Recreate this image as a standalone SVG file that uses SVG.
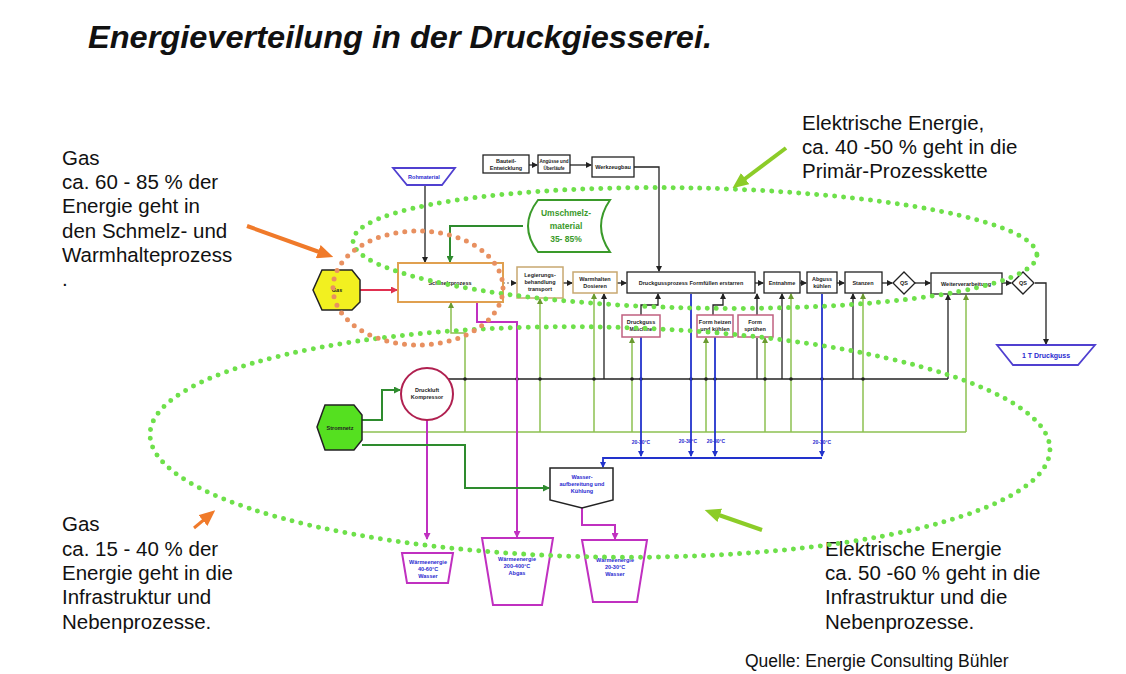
<svg xmlns="http://www.w3.org/2000/svg" width="1126" height="674" viewBox="0 0 1126 674">
<defs>
<style>
.txt{font-family:"Liberation Sans",Arial,sans-serif;fill:#111}
.big{font-size:20.5px}
.t{font-family:"Liberation Sans",Arial,sans-serif;font-size:5.5px;font-weight:bold;text-anchor:middle;fill:#222}
.tb{fill:#2a2ad0}
.tg{fill:#3a9a2a;font-size:8.5px}
.tl{font-size:5px}
.ts{font-size:4.6px}
.tp{font-size:7px}
.bx{fill:#fff;stroke:#222;stroke-width:1.3}
.k{fill:none;stroke:#222;stroke-width:1.3}
.g{fill:none;stroke:#8cc050;stroke-width:1.5}
.dg{fill:none;stroke:#2e8b2e;stroke-width:2}
.b{fill:none;stroke:#2233cc;stroke-width:1.8}
.m{fill:none;stroke:#c030c0;stroke-width:2}
.dotg{fill:none;stroke:#6ee04a;stroke-width:5;stroke-linecap:round;stroke-dasharray:0 9}
.doto{fill:none;stroke:#e89060;stroke-width:5;stroke-linecap:round;stroke-dasharray:0 9}
</style>
<marker id="ak" markerWidth="6" markerHeight="6" refX="5" refY="3" orient="auto" markerUnits="userSpaceOnUse"><path d="M0,0 L6,3 L0,6 Z" fill="#222"/></marker>
<marker id="ag" markerWidth="6" markerHeight="6" refX="5" refY="3" orient="auto" markerUnits="userSpaceOnUse"><path d="M0,0 L6,3 L0,6 Z" fill="#6a9a30"/></marker>
<marker id="adg" markerWidth="7" markerHeight="7" refX="6" refY="3.5" orient="auto" markerUnits="userSpaceOnUse"><path d="M0,0 L7,3.5 L0,7 Z" fill="#2e8b2e"/></marker>
<marker id="ab" markerWidth="6" markerHeight="6" refX="5" refY="3" orient="auto" markerUnits="userSpaceOnUse"><path d="M0,0 L6,3 L0,6 Z" fill="#2233cc"/></marker>
<marker id="am" markerWidth="7" markerHeight="7" refX="6" refY="3.5" orient="auto" markerUnits="userSpaceOnUse"><path d="M0,0 L7,3.5 L0,7 Z" fill="#c030c0"/></marker>
<marker id="ar" markerWidth="7" markerHeight="7" refX="6" refY="3.5" orient="auto" markerUnits="userSpaceOnUse"><path d="M0,0 L7,3.5 L0,7 Z" fill="#e03050"/></marker>
<marker id="aor" markerWidth="16" markerHeight="14" refX="4" refY="7" orient="auto" markerUnits="userSpaceOnUse"><path d="M0,0 L16,7 L0,14 Z" fill="#f07a2a"/></marker>
<marker id="agr" markerWidth="16" markerHeight="14" refX="4" refY="7" orient="auto" markerUnits="userSpaceOnUse"><path d="M0,0 L16,7 L0,14 Z" fill="#8ccc28"/></marker>
</defs>
<rect width="1126" height="674" fill="#fff"/>

<text class="txt" x="88" y="48" font-size="31" font-weight="bold" font-style="italic" textLength="624" lengthAdjust="spacingAndGlyphs">Energieverteilung in der Druckgiesserei.</text>

<g id="annot-gas-top" class="txt big">
<text x="62" y="165">Gas</text>
<text x="62" y="189">ca. 60 - 85 % der</text>
<text x="62" y="213">Energie geht in</text>
<text x="62" y="238">den Schmelz- und</text>
<text x="62" y="262">Warmhalteprozess</text>
<text x="62" y="286">.</text>
</g>
<g id="annot-el-top" class="txt big">
<text x="802" y="130">Elektrische Energie,</text>
<text x="802" y="154">ca. 40 -50 % geht in die</text>
<text x="802" y="178">Primär-Prozesskette</text>
</g>
<g id="annot-gas-bottom" class="txt big">
<text x="62" y="531">Gas</text>
<text x="62" y="556">ca. 15 - 40 % der</text>
<text x="62" y="580">Energie geht in die</text>
<text x="62" y="604">Infrastruktur und</text>
<text x="62" y="629">Nebenprozesse.</text>
</g>
<g id="annot-el-bottom" class="txt big">
<text x="825" y="556">Elektrische Energie</text>
<text x="825" y="580">ca. 50 -60 % geht in die</text>
<text x="825" y="604">Infrastruktur und die</text>
<text x="825" y="629">Nebenprozesse.</text>
</g>
<text class="txt" x="745" y="667" font-size="17.5">Quelle: Energie Consulting Bühler</text>

<g id="connectors">
<path class="k" d="M529,165 H537" marker-end="url(#ak)"/>
<path class="k" d="M570,165 H591" marker-end="url(#ak)"/>
<path class="k" d="M634,167 H659 V271" marker-end="url(#ak)"/>
<path class="k" d="M425,185 V262" marker-end="url(#ak)"/>
<path class="dg" d="M523,226 H450 V262" marker-end="url(#adg)"/>
<path fill="none" stroke="#e03050" stroke-width="2" d="M360,290 H397" marker-end="url(#ar)"/>
<path fill="none" stroke="#999" stroke-width="1.5" stroke-dasharray="2 2" d="M503,283 H516" marker-end="url(#ak)"/>
<path class="k" d="M563,283 H572" marker-end="url(#ak)"/>
<path class="k" d="M617,283 H626" marker-end="url(#ak)"/>
<path class="k" d="M755,283 H763" marker-end="url(#ak)"/>
<path class="k" d="M800,283 H806" marker-end="url(#ak)"/>
<path class="k" d="M837,283 H844" marker-end="url(#ak)"/>
<path class="k" d="M882,283 H892" marker-end="url(#ak)"/>
<path class="k" d="M915,283 H930" marker-end="url(#ak)"/>
<path class="k" d="M1002,283 H1011" marker-end="url(#ak)"/>
<path class="k" d="M1035,283 H1046 V344" marker-end="url(#ak)"/>

<path class="g" d="M362,432 H966"/>
<path class="k" d="M448,379 H948"/>
<path class="g" d="M465,432 V333 H451 V303" marker-end="url(#ag)"/>
<path class="g" d="M540,432 V299" marker-end="url(#ag)"/>
<path class="g" d="M594,432 V294" marker-end="url(#ag)"/>
<path class="g" d="M632,432 V338" marker-end="url(#ag)"/>
<path class="g" d="M706,432 V338" marker-end="url(#ag)"/>
<path class="g" d="M765,432 V338" marker-end="url(#ag)"/>
<path class="g" d="M791,432 V294" marker-end="url(#ag)"/>
<path class="g" d="M863,432 V294" marker-end="url(#ag)"/>
<path class="g" d="M966,432 V295" marker-end="url(#ag)"/>
<path class="k" d="M604,379 V294" marker-end="url(#ak)"/>
<path class="k" d="M757,379 V338"/>
<path class="k" d="M757,315 V294" marker-end="url(#ak)"/>
<path class="k" d="M782,379 V294" marker-end="url(#ak)"/>
<path class="k" d="M853,379 V294" marker-end="url(#ak)"/>
<path class="k" d="M948,379 V295" marker-end="url(#ak)"/>
<path class="k" d="M641,315 V305 H658 V294" marker-end="url(#ak)"/>
<path class="k" d="M713,315 V305 H723 V294" marker-end="url(#ak)"/>
<g fill="#222">
<circle cx="465" cy="379" r="1.8"/><circle cx="540" cy="379" r="1.8"/><circle cx="594" cy="379" r="1.8"/><circle cx="632" cy="379" r="1.8"/><circle cx="641" cy="379" r="1.8"/><circle cx="691" cy="379" r="1.8"/><circle cx="706" cy="379" r="1.8"/><circle cx="715" cy="379" r="1.8"/><circle cx="765" cy="379" r="1.8"/><circle cx="791" cy="379" r="1.8"/><circle cx="822" cy="379" r="1.8"/><circle cx="863" cy="379" r="1.8"/><circle cx="517" cy="379" r="1.8"/>
</g>

<path class="b" d="M641,337 V456" marker-end="url(#ab)"/>
<path class="b" d="M691,294 V456" marker-end="url(#ab)"/>
<path class="b" d="M715,337 V456" marker-end="url(#ab)"/>
<path class="b" d="M822,294 V456" marker-end="url(#ab)"/>
<path class="b" d="M822,458 H603 V467" marker-end="url(#ab)"/>
<g>
<text class="t tb tl" x="641" y="444">20-30°C</text>
<text class="t tb tl" x="688" y="443">20-30°C</text>
<text class="t tb tl" x="716" y="443">20-30°C</text>
<text class="t tb tl" x="822" y="444">20-30°C</text>
</g>

<path class="m" d="M427,420 V539" marker-end="url(#am)"/>
<path class="m" d="M477,302 V322 H517 V537" marker-end="url(#am)"/>
<path class="m" d="M582,508 V525 H615 V539" marker-end="url(#am)"/>

<path class="dg" d="M362,420 H382 V390 H400" marker-end="url(#adg)"/>
<path class="dg" d="M362,445 H465 V488 H549" marker-end="url(#adg)"/>
</g>

<g id="n-bauteil"><rect class="bx" x="483" y="155" width="46" height="18"/><text class="t" x="506" y="163">Bauteil-</text><text class="t" x="506" y="169.5">Entwicklung</text></g>
<g id="n-anguesse"><rect class="bx" x="538" y="155" width="32" height="18"/><text class="t ts" x="554" y="163">Angüsse und</text><text class="t ts" x="554" y="169.5">Überläufe</text></g>
<g id="n-werkzeugbau"><rect class="bx" x="592" y="157" width="42" height="20"/><text class="t" x="613" y="169">Werkzeugbau</text></g>
<g id="n-rohmaterial"><polygon points="393,168 455,168 442,185 407,185" fill="#fff" stroke="#5040d0" stroke-width="1.8"/><text class="t tb" x="424" y="178.5">Rohmaterial</text></g>
<g id="n-umschmelz"><path d="M538,200 H610 Q592,226 610,252 H538 Q518,226 538,200 Z" fill="#fff" stroke="#3a9a2a" stroke-width="2"/>
<text class="t tg" x="566" y="216">Umschmelz-</text><text class="t tg" x="566" y="229">material</text><text class="t tg" x="566" y="242">35- 85%</text></g>
<g id="n-gas"><polygon points="322,270 352,270 360,280 360,302 352,310 322,310 313,290" fill="#f2f020" stroke="#222" stroke-width="1.5"/><text class="t" x="337" y="292" font-style="italic">Gas</text></g>
<g id="n-schmelz"><rect x="398" y="263" width="105" height="39" fill="#fff" stroke="#e0a050" stroke-width="2"/><text class="t" x="450" y="285">Schmelzprozess</text></g>
<g id="n-legierung"><rect x="517" y="267" width="46" height="31" fill="#fff" stroke="#c8a870" stroke-width="1.5"/><text class="t" x="540" y="277">Legierungs-</text><text class="t" x="540" y="284">behandlung</text><text class="t" x="540" y="291">transport</text></g>
<g id="n-warmhalten"><rect x="573" y="272" width="44" height="21" fill="#fff" stroke="#c8a870" stroke-width="1.5"/><text class="t" x="595" y="281">Warmhalten</text><text class="t" x="595" y="288">Dosieren</text></g>
<g id="n-druckguss"><rect class="bx" x="627" y="272" width="128" height="21"/><text class="t" x="691" y="285">Druckgussprozess Formfüllen erstarren</text></g>
<g id="n-entnahme"><rect class="bx" x="764" y="272" width="36" height="21"/><text class="t" x="782" y="285">Entnahme</text></g>
<g id="n-abguss"><rect class="bx" x="807" y="272" width="30" height="21"/><text class="t" x="822" y="281">Abguss</text><text class="t" x="822" y="288">kühlen</text></g>
<g id="n-stanzen"><rect class="bx" x="845" y="272" width="37" height="21"/><text class="t" x="863" y="285">Stanzen</text></g>
<g id="n-qs1"><polygon class="bx" points="893,283 904,272 915,283 904,294"/><text class="t" x="904" y="285">QS</text></g>
<g id="n-weiter"><rect class="bx" x="931" y="273" width="71" height="21"/><text class="t" x="966" y="286">Weiterverarbeitung</text></g>
<g id="n-qs2"><polygon class="bx" points="1012,283 1023,272 1034,283 1023,294"/><text class="t" x="1023" y="285">QS</text></g>
<g id="n-produkt"><polygon points="997,345 1095,345 1078,365 1013,365" fill="#fff" stroke="#5040d0" stroke-width="1.8"/><text class="t tb tp" x="1046" y="358">1 T Druckguss</text></g>
<g id="n-dgmaschine"><rect x="622" y="315" width="38" height="22" fill="#fff" stroke="#c06080" stroke-width="1.5"/><text class="t" x="641" y="324">Druckguss</text><text class="t tl" x="641" y="331">Maschine</text></g>
<g id="n-formheizen"><rect x="697" y="315" width="36" height="22" fill="#fff" stroke="#c06080" stroke-width="1.5"/><text class="t" x="715" y="324">Form heizen</text><text class="t" x="715" y="331">und kühlen</text></g>
<g id="n-formspruehen"><rect x="738" y="315" width="35" height="22" fill="#fff" stroke="#c06080" stroke-width="1.5"/><text class="t" x="755" y="324">Form</text><text class="t" x="755" y="331">sprühen</text></g>
<g id="n-druckluft"><circle cx="427" cy="394" r="26" fill="#fff" stroke="#b02050" stroke-width="2"/><text class="t" x="427" y="392">Druckluft</text><text class="t" x="427" y="399">Kompressor</text></g>
<g id="n-stromnetz"><polygon points="325,405 354,405 362,415 362,440 354,450 325,450 317,427" fill="#55e020" stroke="#222" stroke-width="1.5"/><text class="t" x="340" y="430">Stromnetz</text></g>
<g id="n-wasser"><polygon points="550,468 613,468 613,500 582,508 550,500" fill="#fff" stroke="#222" stroke-width="1.5"/><text class="t tb" x="582" y="479">Wasser-</text><text class="t tb" x="582" y="486">aufbereitung und</text><text class="t tb" x="582" y="493">Kühlung</text></g>
<g id="n-waerme1"><polygon points="402,553 453,553 448,583 407,583" fill="#fff" stroke="#c030c0" stroke-width="2"/><text class="t tb" x="428" y="564">Wärmeenergie</text><text class="t tb" x="428" y="571">40-60°C</text><text class="t tb" x="428" y="578">Wasser</text></g>
<g id="n-waerme2"><polygon points="482,538 553,538 542,605 493,605" fill="#fff" stroke="#c030c0" stroke-width="2"/><text class="t tb" x="517" y="561">Wärmeenergie</text><text class="t tb" x="517" y="568">200-400°C</text><text class="t tb" x="517" y="575">Abgas</text></g>
<g id="n-waerme3"><polygon points="582,540 647,540 637,602 593,602" fill="#fff" stroke="#c030c0" stroke-width="2"/><text class="t tb" x="615" y="562">Wärmeenergie</text><text class="t tb" x="615" y="569">20-30°C</text><text class="t tb" x="615" y="576">Wasser</text></g>

<g id="regions">
<ellipse class="dotg" cx="695" cy="248" rx="342" ry="60" transform="rotate(1.2 695 248)"/>
<ellipse class="dotg" cx="600" cy="442" rx="450" ry="115" transform="rotate(1 600 442)"/>
<ellipse class="doto" cx="418" cy="288" rx="85" ry="57"/>
<path d="M247,226 L322,253" stroke="#f07a2a" stroke-width="4" marker-end="url(#aor)"/>
<path d="M194,528 L206,518" stroke="#f07a2a" stroke-width="3" marker-end="url(#aor)"/>
<path d="M786,148 L742,181" stroke="#8ccc28" stroke-width="4" marker-end="url(#agr)"/>
<path d="M762,530 L716,514" stroke="#8ccc28" stroke-width="4" marker-end="url(#agr)"/>
</g>
</svg>
